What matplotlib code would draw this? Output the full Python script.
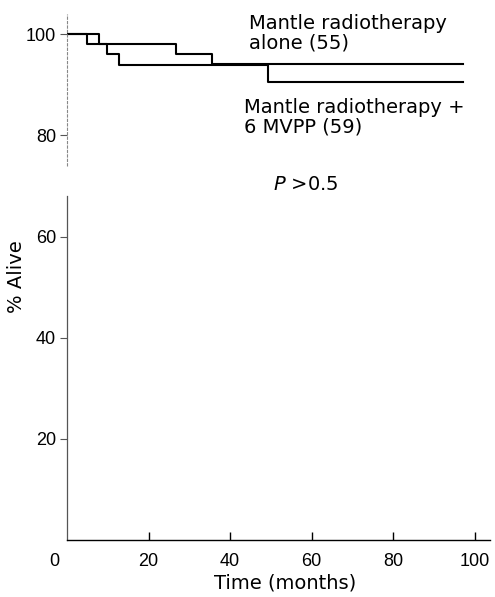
import matplotlib
matplotlib.use("Agg")
import matplotlib.pyplot as plt
from matplotlib.transforms import ScaledTranslation

plt.rcParams['font.family'] = ['Liberation Sans', 'DejaVu Sans']
plt.rcParams['mathtext.fontset'] = 'dejavusans'

# Kaplan-Meier step data (months, % alive)
alone_t = [0, 4.9, 26.7, 35.5, 97.0]
alone_s = [100, 98.0, 96.0, 94.2, 94.2]
mvpp_t = [0, 7.8, 9.8, 12.7, 49.3, 97.0]
mvpp_s = [100, 98.0, 96.0, 94.0, 90.5, 90.5]

x_ticks = [0, 20, 40, 60, 80, 100]
y_ticks = [20, 40, 60, 80, 100]

label_alone = "Mantle radiotherapy\nalone (55)"
label_mvpp = "Mantle radiotherapy +\n6 MVPP (59)"

TXT = 'DejaVu Sans'

fig = plt.figure(figsize=(4.95, 5.97), dpi=100)
ax = fig.add_axes([67/495, 1 - 540/597, 423/495, 526/597])

ax.step(alone_t, alone_s, where='post', color='black', lw=1.5)
ax.step(mvpp_t, mvpp_s, where='post', color='black', lw=1.5)

ax.set_xlim(0, 103.7)
ax.set_ylim(0, 104)

for s in ['top', 'right', 'left']:
    ax.spines[s].set_visible(False)
ax.spines['bottom'].set_linewidth(1.0)

# broken, faint y axis
ax.plot([0, 0], [0, 68], color='#555555', lw=0.9, clip_on=False)
ax.plot([0, 0], [74, 104], color='#888888', lw=0.8, ls=(0, (3, 1)), clip_on=False)

ax.set_xticks(x_ticks)
ax.set_xticklabels([str(v) for v in x_ticks])
ax.set_yticks(y_ticks)
ax.set_yticklabels([str(v) for v in y_ticks])
ax.tick_params(axis='x', direction='in', length=6, width=1, pad=9, labelsize=13)
ax.tick_params(axis='y', direction='out', length=5, width=0.8, pad=3, labelsize=13, color='#555555')
ax.xaxis.get_major_ticks()[0].tick1line.set_visible(False)
lbl0 = ax.get_xticklabels()[0]
lbl0.set_transform(lbl0.get_transform() + ScaledTranslation(-0.13, 0, fig.dpi_scale_trans))

ax.set_xlabel("Time (months)", fontsize=14, family=TXT)
ax.xaxis.set_label_coords(0.515, -0.064)
ax.set_ylabel("% Alive", fontsize=14, family=TXT)
ax.yaxis.set_label_coords(-0.098, 0.5)

ax.text(44.6, 104.05, label_alone, fontsize=14, family=TXT, ha='left', va='top', linespacing=1.08)
ax.text(43.4, 87.3, label_mvpp, fontsize=14, family=TXT, ha='left', va='top', linespacing=1.0)
ax.text(50.5, 70.2, r"$P$ >0.5", fontsize=14, family=TXT, ha='left', va='center')

fig.savefig("out.png", dpi=100)
